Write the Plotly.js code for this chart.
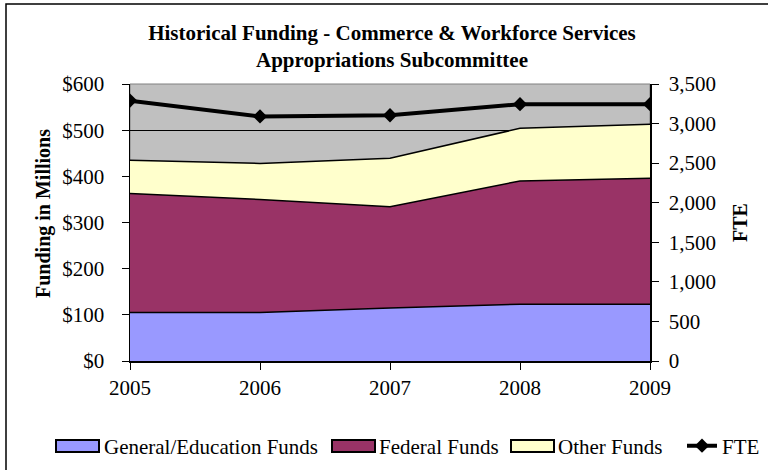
<!DOCTYPE html>
<html><head><meta charset="utf-8">
<script src="https://cdn.plot.ly/plotly-3.0.1.min.js"></script>
<style>body{margin:0;padding:0;background:#fff}#chart{width:768px;height:470px}</style>
</head><body><div id="chart"></div>
<script>
const years = ['2005','2006','2007','2008','2009'];
const seriesNames = ['General/Education Funds', 'Federal Funds', 'Other Funds', 'FTE'];
const generalFunds = [105, 105, 115, 123, 123];
const federalFunds = [258, 245, 219, 267, 273];
const otherFunds = [72, 78, 105, 114, 117];
const fte = [3290, 3090, 3105, 3245, 3245];
const yTicks = [0,100,200,300,400,500,600];
const yTickText = ['$0','$100','$200','$300','$400','$500','$600'];
const y2Ticks = [0,500,1000,1500,2000,2500,3000,3500];
const y2TickText = ['0','500','1,000','1,500','2,000','2,500','3,000','3,500'];

const font = 'Liberation Serif, Times New Roman, serif';
const colors = ['#9999ff', '#993366', '#ffffcc'];
const xv = years.map(Number);
const areaData = [generalFunds, federalFunds, otherFunds];
const traces = [];
areaData.forEach((d, i) => {
  traces.push({x: xv, y: d, name: seriesNames[i], type: 'scatter', mode: 'lines', showlegend: false,
    stackgroup: 'a', fillcolor: colors[i], line: {color: '#000', width: 1.5}});
});
traces.push({x: xv, y: fte, name: seriesNames[3], type: 'scatter', mode: 'lines+markers', yaxis: 'y2', legend: 'legend4',
  line: {color: '#000', width: 4}, marker: {symbol: 'diamond', size: 11, color: '#000'}});
// legend-only entries for the area series (text); swatches drawn as shapes below
['legend', 'legend2', 'legend3'].forEach((lg, i) => {
  traces.push({x: [null], y: [null], name: seriesNames[i], type: 'scatter', mode: 'lines',
    line: {width: 0, color: colors[i]}, legend: lg, hoverinfo: 'skip'});
});

function leg(px) {
  return {orientation: 'h', x: px/768, xref: 'container', xanchor: 'left', y: 1 - 446/470, yref: 'container',
    yanchor: 'middle', font: {family: font, size: 21}, itemwidth: 30, bgcolor: 'rgba(0,0,0,0)', borderwidth: 0};
}
const PX = (p) => (p - 130) / 520;
const PY = (p) => (361 - p) / 277;
const swatchX = [56, 332, 511];
const shapes = [
  {type: 'rect', xref: 'paper', yref: 'paper', x0: 0, x1: 1, y0: 0, y1: 1, line: {color: '#808080', width: 1}, layer: 'below'},
  {type: 'rect', xref: 'paper', yref: 'paper', x0: PX(6), x1: PX(780), y0: PY(480), y1: PY(4),
   line: {color: '#000', width: 1.5}, fillcolor: 'rgba(0,0,0,0)'}
];
swatchX.forEach((sx, i) => {
  shapes.push({type: 'rect', xref: 'paper', yref: 'paper', x0: PX(sx), x1: PX(sx + 43), y0: PY(452), y1: PY(440),
    fillcolor: colors[i], line: {color: '#000', width: 2}});
});

const layout = {
  width: 768, height: 470,
  margin: {l: 130, r: 118, t: 84, b: 109},
  paper_bgcolor: '#fff', plot_bgcolor: '#c0c0c0',
  font: {family: font, size: 21, color: '#000'},
  showlegend: true,
  title: {text: '<b>Historical Funding - Commerce & Workforce Services<br>Appropriations Subcommittee</b>',
    x: 392/768, xanchor: 'center', y: 1 - 40/470, yanchor: 'top', font: {family: font, size: 21, color: '#000'}},
  xaxis: {range: [2005, 2009], tickvals: xv, ticktext: years, showgrid: false, zeroline: false,
    showline: true, linecolor: '#000', linewidth: 1.5, ticks: 'outside', ticklen: 7, tickcolor: '#000',
    tickfont: {family: font, size: 21}},
  yaxis: {range: [0, 600], tickvals: yTicks, ticktext: yTickText, showgrid: true, gridcolor: '#000', gridwidth: 1,
    zeroline: false, showline: true, linecolor: '#000', linewidth: 1.5, ticks: 'outside', ticklen: 7, tickcolor: '#000',
    tickfont: {family: font, size: 21}, ticklabelstandoff: 13, automargin: false},
  yaxis2: {range: [0, 3500], tickvals: y2Ticks, ticktext: y2TickText, overlaying: 'y', side: 'right',
    showgrid: false, zeroline: false, showline: true, linecolor: '#000', linewidth: 1.5, automargin: false,
    ticks: 'outside', ticklen: 7, tickcolor: '#000', tickfont: {family: font, size: 21}, ticklabelstandoff: 6,
    title: {text: '<b>FTE</b>', font: {family: font, size: 20}, standoff: 18}},
  annotations: [
    {text: '<b>Funding in Millions</b>', xref: 'paper', yref: 'paper', x: PX(43), y: PY(214),
     xanchor: 'center', yanchor: 'middle', textangle: -90, showarrow: false, font: {family: font, size: 20, color: '#000'}}
  ],
  legend: leg(64), legend2: leg(339), legend3: leg(518), legend4: leg(682),
  shapes: shapes
};
Plotly.newPlot('chart', traces, layout, {displayModeBar: false, staticPlot: true});
</script></body></html>
